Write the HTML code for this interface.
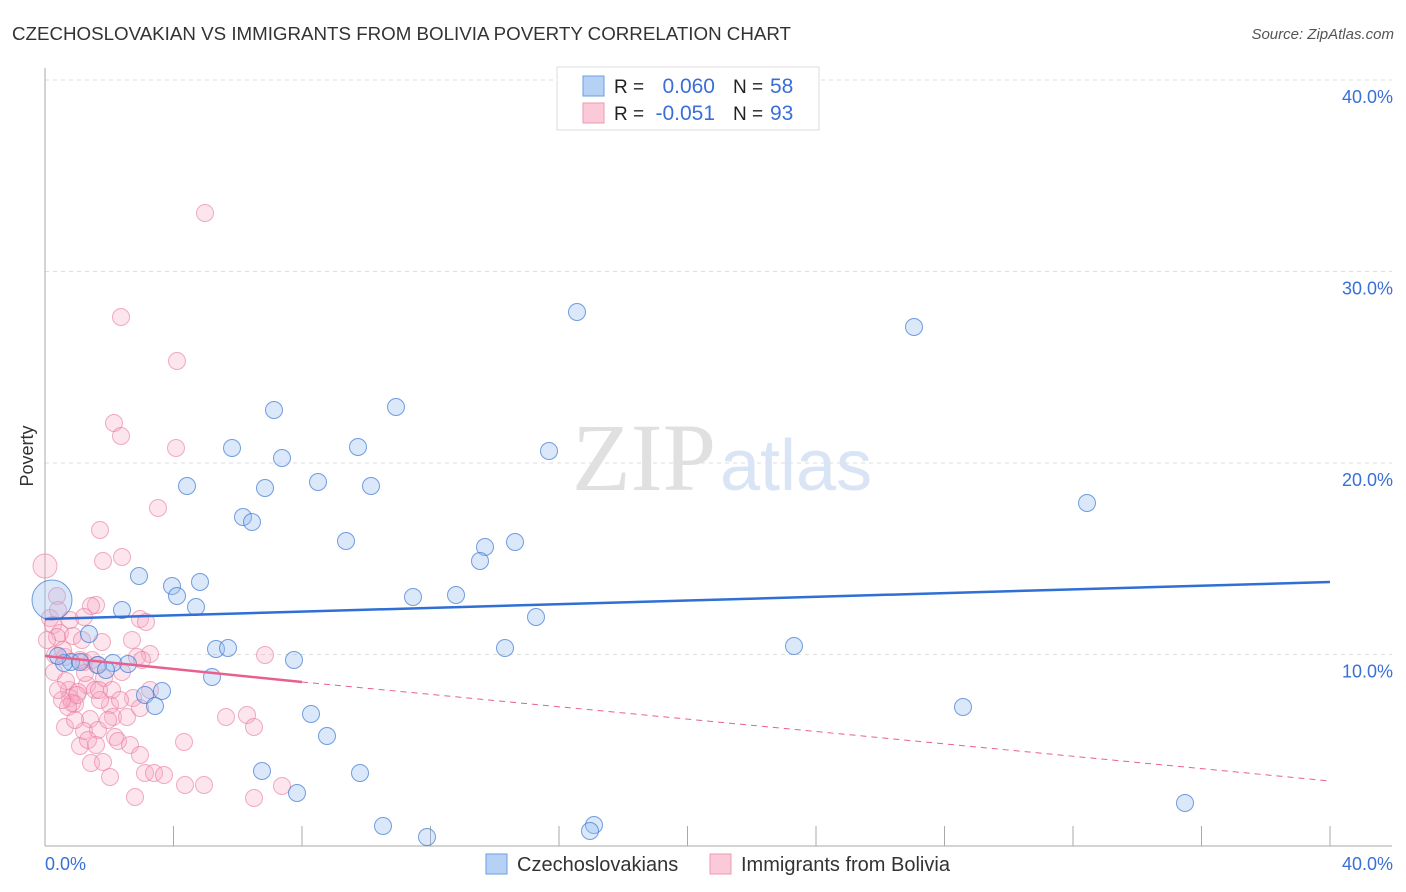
<!DOCTYPE html>
<html><head><meta charset="utf-8">
<style>
body{margin:0;background:#fff;font-family:"Liberation Sans",sans-serif}
#c{position:relative;width:1406px;height:892px}
</style></head>
<body><div id="c">
<svg id="s" width="1406" height="892" style="position:absolute;left:0;top:0"></svg>
</div>
<script>
const blueX=[577,914,396,274,232,358,549,282,187,318,265,371,1087,243,252,346,515,485,480,139,172,200,177,413,456,196,122,536,89,216,228,505,794,294,128,113,98,71,64,58,106,212,162,145,155,963,311,327,262,360,297,1185,383,594,590,427,80].map(p=>(p-45)/32.125);
const blueY=[312,327,407,410,448,447,451,458,486,482,488,486,503,517,522,541,542,547,561,576,586,582,596,597,595,607,610,617,634,649,648,648,646,660,664,663,665,662,663,656,670,677,691,695,706,707,714,736,771,773,793,803,826,825,831,837,662].map(p=>(846-p)/19.15);
const pinkX=[205,121,177,114,121,176,158,100,122,103,57,96,91,140,146,50,53,60,57,73,82,102,47,55,65,84,92,150,137,265,97,54,122,69,87,78,70,75,95,104,133,72,110,68,90,113,127,140,226,247,254,80,84,98,115,118,130,184,140,65,91,103,110,145,154,164,185,204,135,254,282,66,77,80,58,70,63,112,100,88,96,75,108,62,150,85,120,132,142,58,99,84].map(p=>(p-45)/32.125);
const pinkY=[213,317,361,423,436,448,508,530,557,561,596,605,606,619,622,618,625,633,637,636,640,642,640,655,657,662,660,654,657,655,665,672,672,690,685,692,698,704,690,678,698,703,705,707,719,717,717,708,717,715,727,746,731,730,737,741,745,742,755,727,763,762,777,773,773,775,785,785,797,798,786,681,695,660,610,620,650,690,700,740,745,720,720,700,690,673,700,640,660,690,690,617].map(p=>(846-p)/19.15);
const yTicks=[10,20,30,40];
const xTickLabels=["0.0%","40.0%"];

const X=v=>45+v*32.125, Y=v=>846-v*19.15;
const s=document.getElementById('s');const NS="http://www.w3.org/2000/svg";
function add(tag,attrs,parent,text){const e=document.createElementNS(NS,tag);for(const k in attrs)e.setAttribute(k,attrs[k]);if(text!==undefined)e.textContent=text;(parent||s).appendChild(e);return e;}
let e;
e=add('text',{x:12,y:40,'font-size':18,fill:'#333',textLength:779,lengthAdjust:'spacingAndGlyphs'},null,'CZECHOSLOVAKIAN VS IMMIGRANTS FROM BOLIVIA POVERTY CORRELATION CHART');


e=add('text',{x:1394,y:39,'font-size':15,fill:'#555','font-style':'italic','text-anchor':'end'},null,'Source: ZipAtlas.com');


yTicks.forEach(t=>{
 e=add('line',{x1:45,x2:1392,y1:Y(t),y2:Y(t),stroke:'#ddd','stroke-dasharray':'4,4'});
 
 
 e=add('text',{x:1393,y:Y(t)+23,'font-size':18,fill:'#3a6fd8','text-anchor':'end'},null,t.toFixed(1)+'%');
 
 
});
e=add('line',{x1:45,x2:45,y1:68,y2:846,stroke:'#aaa'});


e=add('line',{x1:45,x2:1392,y1:846,y2:846,stroke:'#aaa'});


for(let i=0;i<=10;i++){e=add('line',{x1:X(i*4),x2:X(i*4),y1:826,y2:846,stroke:'#aaa'});
 
 }
e=add('text',{x:45,y:870,'font-size':18,fill:'#3a6fd8'},null,xTickLabels[0]);


e=add('text',{x:1393,y:870,'font-size':18,fill:'#3a6fd8','text-anchor':'end'},null,xTickLabels[1]);


e=add('text',{x:33,y:456,'font-size':18,fill:'#333','text-anchor':'middle',transform:'rotate(-90 33 456)'},null,'Poverty');


e=add('text',{x:716,y:490,'font-size':96,fill:'#e0e0e0','text-anchor':'end','font-family':'Liberation Serif'},null,'ZIP');


e=add('text',{x:720,y:490,'font-size':72,fill:'#d9e4f5'},null,'atlas');


pinkX.forEach((x,i)=>{e=add('circle',{cx:X(x),cy:Y(pinkY[i]),r:8.5,fill:'rgba(248,170,195,0.3)',stroke:'rgba(232,120,155,0.6)','stroke-width':1});
 
 });
e=add('circle',{cx:45,cy:566,r:12,fill:'rgba(248,170,195,0.3)',stroke:'rgba(232,120,155,0.6)'});


blueX.forEach((x,i)=>{e=add('circle',{cx:X(x),cy:Y(blueY[i]),r:8.5,fill:'rgba(150,190,240,0.35)',stroke:'rgba(60,120,210,0.7)','stroke-width':1});
 
 });
e=add('circle',{cx:52,cy:600,r:20,fill:'rgba(150,190,240,0.35)',stroke:'rgba(60,120,210,0.7)'});


e=add('line',{x1:45,y1:619,x2:1330,y2:582,stroke:'#2f6fd6','stroke-width':2.5});


e=add('line',{x1:45,y1:656,x2:302,y2:682,stroke:'#e8608f','stroke-width':2.5});


e=add('line',{x1:302,y1:682,x2:1330,y2:781,stroke:'#e8608f','stroke-width':1,'stroke-dasharray':'6,5'});


// legend
e=add('rect',{x:557,y:67,width:262,height:63,fill:'#fff',stroke:'#ddd'});


[[0,'0.060','58','rgba(150,190,240,0.7)','#6a9ee6'],[1,'-0.051','93','rgba(248,180,200,0.7)','#ec9ab5']].forEach(([i,r,n,f,st])=>{
 const y=76+i*27;
 e=add('rect',{x:583,y:y,width:21,height:20,fill:f,stroke:st});
 
 
 e=add('text',{x:614,y:y+17,'font-size':19,fill:'#222'},null,'R = ');
 
 
 e=add('text',{x:715,y:y+17,'font-size':21,fill:'#3a6fd8','text-anchor':'end'},null,r);
 
 
 e=add('text',{x:733,y:y+17,'font-size':19,fill:'#222'},null,'N = ');
 
 
 e=add('text',{x:770,y:y+17,'font-size':21,fill:'#3a6fd8'},null,n);
 
 
});
[[486,'Czechoslovakians','rgba(150,190,240,0.7)','#6a9ee6'],[710,'Immigrants from Bolivia','rgba(248,180,200,0.7)','#ec9ab5']].forEach(([x,l,f,st])=>{
 e=add('rect',{x:x,y:854,width:21,height:20,fill:f,stroke:st});
 
 
 e=add('text',{x:x+31,y:871,'font-size':20,fill:'#333'},null,l);
 
 
});
</script>
</body></html>
